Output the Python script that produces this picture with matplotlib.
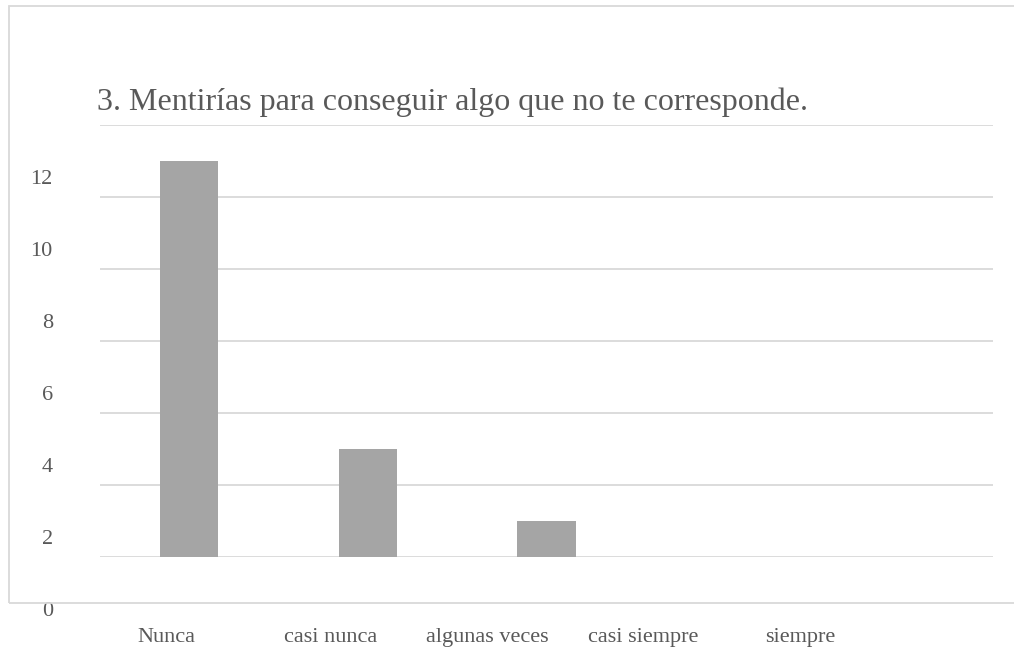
import matplotlib.pyplot as plt
import matplotlib.transforms as mtransforms
from matplotlib.patches import Rectangle

categories = ['Nunca', 'casi nunca', 'algunas veces', 'casi siempre', 'siempre']
values = [11, 3, 1, 0, 0]
yticks = [0, 2, 4, 6, 8, 10, 12]
title = '3. Mentirías para conseguir algo que no te corresponde.'

textColor = '#595959'
gridColor = '#d9d9d9'
barColor = '#a5a5a5'

plt.rcParams['font.family'] = ['Liberation Serif', 'DejaVu Serif']

W, H = 1014, 651
fig = plt.figure(figsize=(W / 100, H / 100), dpi=100)

# outer chart frame (cut off on the right)
fig.add_artist(Rectangle((9 / W, 1 - 603 / H), 1.2, (603 - 6) / H,
                         transform=fig.transFigure, fill=False,
                         edgecolor=gridColor, linewidth=1.3))

ax = fig.add_axes([100 / W, 1 - 557 / H, (993 - 100) / W, (557 - 125) / H])
x = list(range(len(categories)))
ax.bar(x, values, width=0.325, color=barColor, zorder=3)
ax.set_xlim(-0.5, len(categories) - 0.5)
ax.set_ylim(0, 12)

for s in ax.spines.values():
    s.set_visible(False)

ax.set_yticks(yticks)
ax.set_yticklabels([str(v) for v in yticks], fontsize=16, color=textColor)
ax.yaxis.grid(True, color=gridColor, linewidth=1.3)
ax.set_axisbelow(True)
ax.tick_params(axis='y', length=0, pad=34)
shift = mtransforms.ScaledTranslation(0, -54 / 100, fig.dpi_scale_trans)
for lbl in ax.get_yticklabels():
    lbl.set_transform(lbl.get_transform() + shift)
    lbl.set_verticalalignment('center')

# category labels sit offset from the bars in the reference
labelPos = [-0.13, 0.79, 1.67, 2.54, 3.42]
ax.set_xticks(labelPos)
ax.set_xticklabels(categories, fontsize=16, color=textColor)
ax.tick_params(axis='x', length=0, pad=51)

fig.text(97 / W, 1 - 110 / H, title, fontsize=23, color=textColor,
         va='baseline', ha='left')

plt.savefig('out.png', dpi=100)
plt.close()
